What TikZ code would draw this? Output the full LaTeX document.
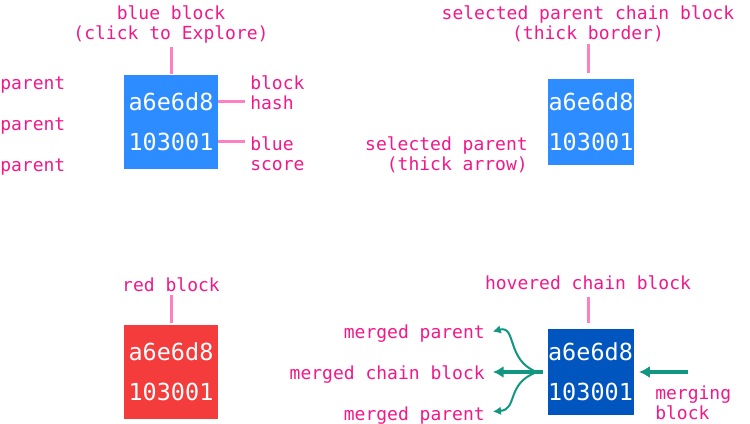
\documentclass[tikz,border=0pt]{standalone}
\usepackage{fontspec}
\usetikzlibrary{arrows.meta}
\newfontfamily\notefont{DejaVu Sans Mono}
\definecolor{hotpink}{RGB}{242, 24, 138}
\definecolor{blossom}{RGB}{255, 128, 192}
\definecolor{azure}{RGB}{45, 140, 255}
\definecolor{cinnabar}{RGB}{245, 60, 60}
\definecolor{cobalt}{RGB}{0, 85, 190}
\definecolor{jungle}{RGB}{17, 150, 130}

\begin{document}
\begin{tikzpicture}[x=0.75pt, y=0.75pt,
            blockbox/.style={minimum size=#1, inner sep=0pt, align=center, text=white,
                             font=\notefont\fontsize{17.6pt}{30pt}\selectfont},
            note/.style={inner sep=0pt, text=hotpink, font=\notefont\fontsize{13.5pt}{15pt}\selectfont},
            pinline/.style={blossom, line width=2.25pt},
            mergethick/.style={jungle, line width=3pt, -{Latex[length=8pt, width=9pt]}},
            mergethin/.style={jungle, line width=1.5pt, -{Latex[length=6pt, width=6.5pt]}}]
            \useasboundingbox (0,0) rectangle (750,-424);
            % blocks
            \node[blockbox=70.5pt, fill=azure]    (blueblk)  at (171.0,-122) {a6e6d8\\103001};
            \node[blockbox=64.5pt, fill=azure]    (chainblk) at (591.0,-122) {a6e6d8\\103001};
            \node[blockbox=70.5pt, fill=cinnabar] (redblk)   at (171.0,-372) {a6e6d8\\103001};
            \node[blockbox=64.5pt, fill=cobalt]   (hoverblk) at (590.5,-372) {a6e6d8\\103001};
            % notes (base = last line)
            \node[note, anchor=base, align=center]      (bluecap)   at (171,-39.5)  {blue block\\(click to Explore)};
            \node[note, anchor=base west]               (par1)      at (0,-90)      {parent};
            \node[note, anchor=base west]               (par2)      at (0,-131)     {parent};
            \node[note, anchor=base west]               (par3)      at (0,-172)     {parent};
            \node[note, anchor=base west, align=left]   (hashnote)  at (250,-109.5) {block\\hash};
            \node[note, anchor=base west, align=left]   (scorenote) at (250,-170.5) {blue\\score};
            \node[note, anchor=base, align=center]      (chaincap)  at (588,-39.5)  {selected parent chain block\\(thick border)};
            \node[note, anchor=base east, align=right]  (arrownote) at (528,-170.5) {selected parent\\(thick arrow)};
            \node[note, anchor=base]                    (redcap)    at (171,-291.5) {red block};
            \node[note, anchor=base]                    (hovercap)  at (588,-289)   {hovered chain block};
            \node[note, anchor=base east]               (mpar1)     at (485,-338.5) {merged parent};
            \node[note, anchor=base east]               (mchain)    at (485,-379.5) {merged chain block};
            \node[note, anchor=base east]               (mpar2)     at (485,-420.5) {merged parent};
            \node[note, anchor=base west, align=left]   (mergenote) at (655,-419.5) {merging\\block};
            % pins
            \draw[pinline, shorten <=2.4pt, shorten >=0.75pt] (bluecap.south)  -- (bluecap.south  |- blueblk.north);
            \draw[pinline, shorten <=1.6pt, shorten >=4.5pt]  (chaincap.south) -- (chaincap.south |- chainblk.north);
            \draw[pinline, shorten <=2.6pt, shorten >=1.5pt]  (redcap.south)   -- (redcap.south   |- redblk.north);
            \draw[pinline, shorten <=5.6pt, shorten >=4.5pt]  (hovercap.south) -- (hovercap.south |- hoverblk.north);
            \coordinate (hashpin)  at (245,-102);
            \coordinate (scorepin) at (245,-142);
            \draw[pinline] (hashpin  -| blueblk.east) -- (hashpin);
            \draw[pinline] (scorepin -| blueblk.east) -- (scorepin);
            % merge arrows
            \coordinate (hub)     at (537,-372);
            \coordinate (mergein) at (688,-372);
            \draw[mergethick, shorten <=3.4pt, shorten >=6pt] (hoverblk.west) -- (mchain.east |- hoverblk.west);
            \draw[mergethin, shorten >=6pt, looseness=1.3] (hub) to[out=160, in=15]  (mpar1.east);
            \draw[mergethin, shorten >=6pt, looseness=1.3] (hub) to[out=200, in=5]   ([yshift=2.5pt]mpar2.east);
            \draw[mergethick, shorten >=4pt] (mergein) -- (hoverblk.east);
\end{tikzpicture}
\end{document}
